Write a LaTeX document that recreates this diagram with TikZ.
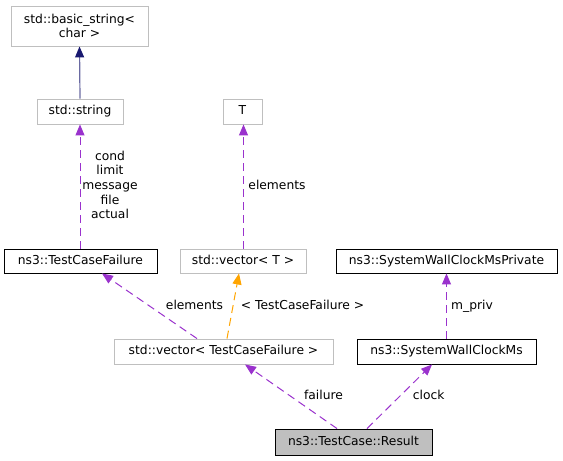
\documentclass[tikz,border=0pt]{standalone}
\usepackage{fontspec}
\setmainfont{DejaVu Sans}
\usetikzlibrary{arrows.meta}
\definecolor{dorchid}{HTML}{9A32CD}
\definecolor{dorange}{HTML}{FFA500}
\definecolor{mnblue}{HTML}{191970}
\definecolor{boxgray}{HTML}{BFBFBF}
\tikzset{
  box/.style={draw=#1, line width=0.9pt, inner sep=0pt, align=center},
  oneline/.style={text height=9pt, text depth=2.5pt},
  gbox/.style={box=boxgray},
  kbox/.style={box=black},
  dep/.style={draw=dorchid, line width=1pt, dash pattern=on 8pt off 5pt, -{Triangle[length=11pt,width=9pt,fill=dorchid]}},
  tdep/.style={draw=dorange, line width=1pt, dash pattern=on 8pt off 5pt, -{Triangle[length=11pt,width=9pt,fill=dorange]}},
  inh/.style={draw=mnblue!65!white, line width=1.2pt, -{Triangle[length=11pt,width=9pt,fill=mnblue,color=mnblue]}},
  lbl/.style={inner sep=0pt, align=center, oneline},
}
\begin{document}
\begin{tikzpicture}[x=1pt,y=-1pt,font=\fontsize{12.3}{14.6}\selectfont]
\useasboundingbox[fill=white] (0,0) rectangle (563,461);
% nodes
\node[gbox, minimum width=137pt, minimum height=40pt] (bs) at (79.5,26) {std::basic\_string<\\char >};
\node[gbox, oneline, minimum width=86pt, minimum height=25pt] (str) at (80,111.5) {std::string};
\node[gbox, oneline, minimum width=39pt, minimum height=25pt] (T) at (242.5,111.5) {T};
\node[kbox, oneline, minimum width=153pt, minimum height=24pt] (tcf) at (80.5,261) {ns3::TestCaseFailure};
\node[gbox, oneline, minimum width=126pt, minimum height=24pt] (vt) at (243,261) {std::vector< T >};
\node[kbox, oneline, minimum width=221pt, minimum height=24pt] (priv) at (446.5,261) {ns3::SystemWallClockMsPrivate};
\node[gbox, oneline, minimum width=219pt, minimum height=25pt] (vtcf) at (223.5,351.5) {std::vector< TestCaseFailure >};
\node[kbox, oneline, minimum width=179pt, minimum height=25pt] (swcm) at (446.5,351.5) {ns3::SystemWallClockMs};
\node[kbox, oneline, fill=boxgray, minimum width=157pt, minimum height=26pt] (res) at (353.5,442) {ns3::TestCase::Result};
% edges
\draw[inh] (str.north) -- (bs.south);
\draw[dep] ([xshift=-0.5pt]tcf.north) -- (str.south);
\draw[dep] ([xshift=0.5pt]vt.north) -- ([xshift=1pt]T.south);
\draw[dep] ([xshift=-26.5pt]vtcf.north) -- ([xshift=21.5pt]tcf.south);
\draw[tdep] ([xshift=3.5pt]vtcf.north) -- ([xshift=-4pt]vt.south);
\draw[dep] (swcm.north) -- (priv.south);
\draw[dep] ([xshift=-16.5pt]res.north) -- ([xshift=21.5pt]vtcf.south);
\draw[dep] ([xshift=13.5pt]res.north) -- ([xshift=-14.5pt]swcm.south);
% labels
\node[inner sep=0pt, align=center] (l1) at (110,185) {cond\\limit\\message\\file\\actual};
\node[lbl] (l2) at (277,186) {elements};
\node[lbl] (l3) at (194.5,306) {elements};
\node[lbl] (l4) at (302.6,306) {< TestCaseFailure >};
\node[lbl] (l5) at (472,306) {m\_priv};
\node[lbl] (l6) at (323.5,396) {failure};
\node[lbl] (l7) at (428.7,396) {clock};
\end{tikzpicture}
\end{document}
